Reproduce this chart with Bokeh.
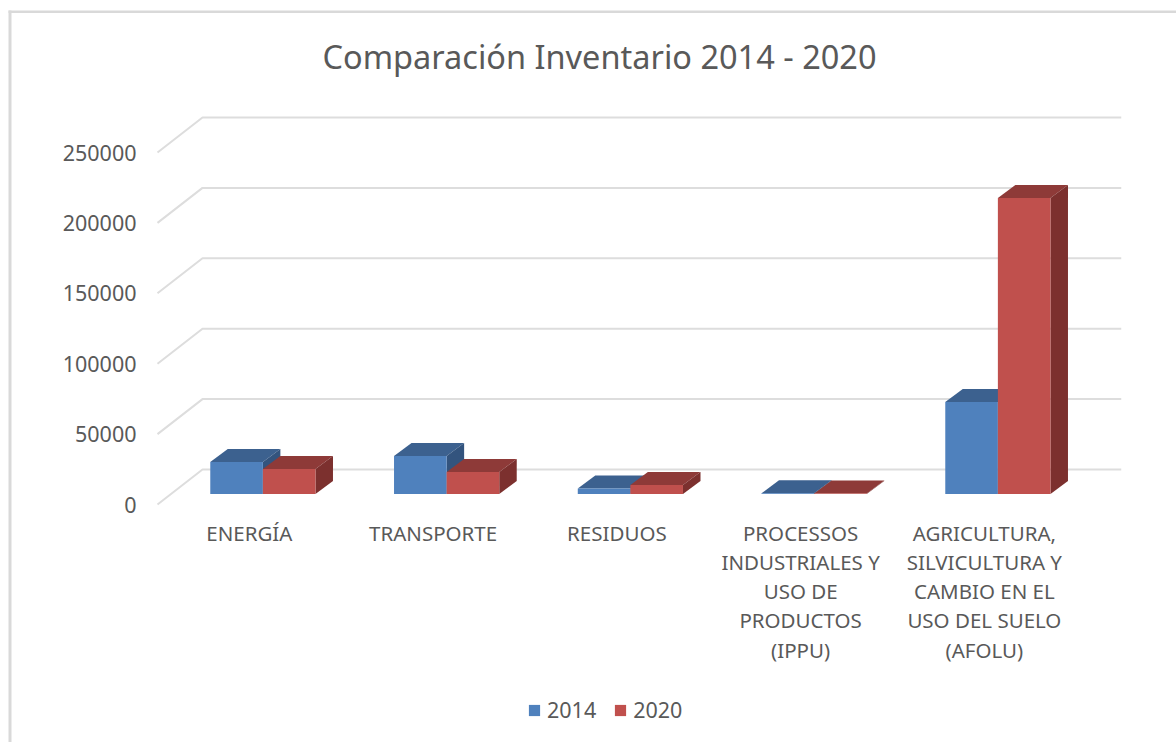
from bokeh.plotting import figure
from bokeh.models import FixedTicker, Label, Legend, LegendItem
from bokeh.embed import file_html
from bokeh.resources import INLINE

categories = ["ENERGÍA", "TRANSPORTE", "RESIDUOS",
              "PROCESSOS\nINDUSTRIALES Y\nUSO DE\nPRODUCTOS\n(IPPU)",
              "AGRICULTURA,\nSILVICULTURA Y\nCAMBIO EN EL\nUSO DEL SUELO\n(AFOLU)"]
series_names = ["2014", "2020"]
values_2014 = [22700, 27000, 3900, 500, 65300]
values_2020 = [17800, 15600, 6400, 400, 210200]
y_ticks = [0, 50000, 100000, 150000, 200000, 250000]

# picture geometry
W, H = 1176, 742
X0, CAT_W = 157, 183.75                  # front plane left, px per category
Y0, PX_PER = 504, 70.4 / 50000           # front plane zero, px per value

def vy(px):
    return px / PX_PER

def dx(px_x):
    return (px_x - X0) / CAT_W

def dy(px_y):
    return vy(Y0 - px_y)

x_range = (dx(0), dx(W))
y_range = (dy(H), dy(0))

WALL_DX, WALL_DY = 45 / CAT_W, vy(35)
BAR_W = 52.6 / CAT_W
BAR_X = 13.5 / CAT_W
BAR_Y = vy(10.5)
DEPTH_X, DEPTH_Y = 17.5 / CAT_W, vy(13)

COL = {"2014": ("#4F81BD", "#3C618F", "#33547E"),
       "2020": ("#C0504D", "#8E3A38", "#7C302E")}
TXT = "#595959"
FONT = "Noto Sans"

p = figure(width=W, height=H, output_backend="svg", toolbar_location=None,
           x_range=x_range, y_range=y_range,
           min_border=0, outline_line_color=None,
           background_fill_color="white", border_fill_color="white")
p.grid.visible = False

# chart-area border: only its top and left edges are in the picture
p.line([dx(8), dx(W)], [dy(11.3), dy(11.3)], line_color="#D9D9D9", line_width=2.6)
p.line([dx(9.5), dx(9.5)], [dy(10), dy(H)], line_color="#D9D9D9", line_width=3)

p.add_layout(Label(x=dx(599), y=dy(56), text="Comparación Inventario 2014 - 2020",
                   text_align="center", text_baseline="middle",
                   text_font=FONT, text_font_size="32.5px", text_color=TXT))

ya = p.yaxis[0]
ya.fixed_location = dx(150)
ya.ticker = FixedTicker(ticks=y_ticks)
ya.axis_line_color = None
ya.major_tick_line_color = None
ya.minor_tick_line_color = None
ya.major_label_standoff = 8
ya.major_label_text_font = FONT
ya.major_label_text_font_size = "21.5px"
ya.major_label_text_color = TXT
ya.major_label_overrides = {t: str(t) for t in y_ticks}

xa = p.xaxis[0]
xa.fixed_location = dy(510)
xa.ticker = FixedTicker(ticks=[i + 0.5 for i in range(len(categories))])
xa.major_label_overrides = {i + 0.5: c for i, c in enumerate(categories)}
xa.axis_line_color = None
xa.major_tick_line_color = None
xa.minor_tick_line_color = None
xa.major_label_standoff = 2
xa.major_label_text_font = FONT
xa.major_label_text_font_size = "20.5px"
xa.major_label_text_color = TXT
xa.major_label_text_line_height = 1.046

for t in y_ticks:
    vv = t + WALL_DY
    p.line([0, WALL_DX, len(categories) + WALL_DX], [t, vv, vv],
           line_color="#DDDDDD", line_width=2)

renderers = {}
for s, vals in (("2014", values_2014), ("2020", values_2020)):
    front, top, side = COL[s]
    k = series_names.index(s)
    xs_f, ys_f, xs_t, ys_t, xs_s, ys_s = [], [], [], [], [], []
    for i, v in enumerate(vals):
        l = i + 0.5 - BAR_W + BAR_X + k * BAR_W
        r = l + BAR_W
        b, h = BAR_Y, BAR_Y + v
        xs_f.append([l, r, r, l]); ys_f.append([b, b, h, h])
        xs_t.append([l, r, r + DEPTH_X, l + DEPTH_X])
        ys_t.append([h, h, h + DEPTH_Y, h + DEPTH_Y])
        xs_s.append([r, r + DEPTH_X, r + DEPTH_X, r])
        ys_s.append([b, b + DEPTH_Y, h + DEPTH_Y, h])
    p.patches(xs_t, ys_t, fill_color=top, line_color=None)
    p.patches(xs_s, ys_s, fill_color=side, line_color=None)
    renderers[s] = p.patches(xs_f, ys_f, fill_color=front, line_color=None)

legend = Legend(items=[LegendItem(label=s, renderers=[renderers[s]]) for s in series_names],
                orientation="horizontal", location=(527, H - 724),
                glyph_width=14, glyph_height=14, label_text_font=FONT,
                label_text_font_size="21.5px", label_text_color=TXT,
                border_line_color=None, background_fill_alpha=0,
                spacing=17, label_standoff=6, margin=0, padding=0)
p.add_layout(legend, "center")

open("out.html", "w").write(file_html(p, INLINE))
